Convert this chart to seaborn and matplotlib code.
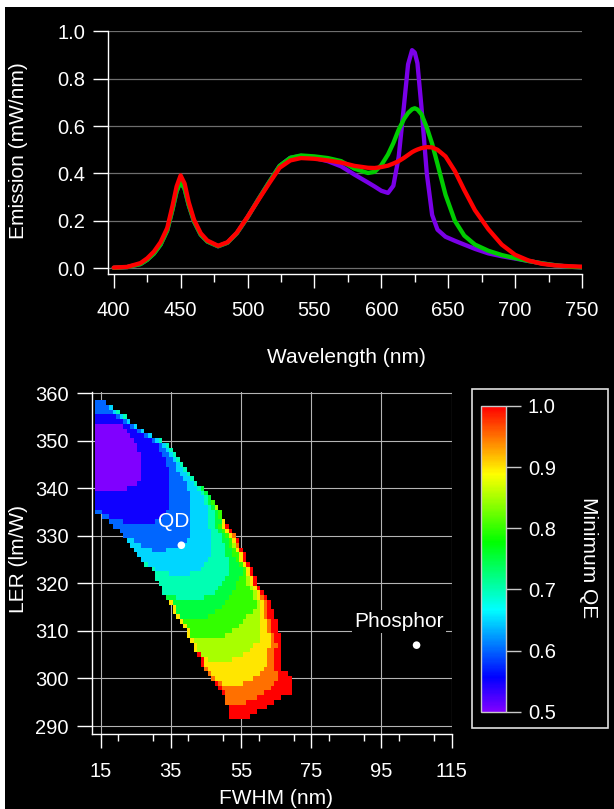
import re
import numpy as np
import pandas as pd
import matplotlib
matplotlib.use("Agg")
import matplotlib.pyplot as plt
from matplotlib.colors import ListedColormap, Normalize, hsv_to_rgb
from matplotlib.patches import Rectangle
from matplotlib.ticker import FormatStrFormatter, MultipleLocator
import seaborn as sns

# ---------------- data: emission spectra ----------------
wavelength = [400, 410, 420, 425, 430, 435, 440, 444, 447, 450,
              453, 456, 460, 465, 470, 478, 485, 492, 500, 508,
              516, 524, 532, 540, 550, 560, 570, 580, 590, 595,
              600, 605, 609, 613, 617, 620, 623, 625, 627, 630,
              634, 638, 642, 648, 655, 662, 670, 680, 690, 700,
              710, 720, 730, 740, 750]
emission_purple = [0.002, 0.005, 0.018, 0.036, 0.062, 0.100, 0.160, 0.250, 0.325, 0.366,
                   0.335, 0.268, 0.198, 0.142, 0.113, 0.093, 0.108, 0.148, 0.215, 0.290,
                   0.362, 0.432, 0.466, 0.474, 0.465, 0.452, 0.430, 0.395, 0.362, 0.345,
                   0.327, 0.318, 0.348, 0.470, 0.690, 0.860, 0.920, 0.910, 0.865, 0.680,
                   0.400, 0.225, 0.163, 0.133, 0.116, 0.100, 0.082, 0.063, 0.051, 0.041,
                   0.031, 0.021, 0.013, 0.007, 0.004]
emission_green = [0.002, 0.005, 0.018, 0.036, 0.062, 0.100, 0.160, 0.250, 0.325, 0.366,
                  0.335, 0.268, 0.198, 0.142, 0.113, 0.093, 0.108, 0.148, 0.215, 0.290,
                  0.362, 0.432, 0.466, 0.476, 0.472, 0.465, 0.452, 0.420, 0.402, 0.407,
                  0.435, 0.480, 0.528, 0.585, 0.630, 0.655, 0.671, 0.675, 0.670, 0.650,
                  0.594, 0.525, 0.440, 0.310, 0.200, 0.138, 0.100, 0.074, 0.056, 0.043,
                  0.031, 0.021, 0.013, 0.007, 0.004]
emission_red = [0.003, 0.006, 0.022, 0.042, 0.070, 0.110, 0.170, 0.265, 0.345, 0.392,
                0.357, 0.280, 0.205, 0.148, 0.117, 0.095, 0.110, 0.150, 0.217, 0.287,
                0.357, 0.424, 0.455, 0.465, 0.462, 0.455, 0.446, 0.432, 0.424, 0.423,
                0.427, 0.433, 0.442, 0.452, 0.466, 0.478, 0.490, 0.496, 0.501, 0.507,
                0.511, 0.510, 0.500, 0.472, 0.410, 0.330, 0.245, 0.165, 0.100, 0.057,
                0.033, 0.019, 0.012, 0.009, 0.007]
series_names = ["purple", "green", "red"]
series_colors = ["#7a00e8", "#00cc00", "#ff0000"]

# ---------------- data: minimum QE map ----------------
# one row per LER value (358 ... 292 lm/W); "start:codes" where start is the first
# FWHM (nm) column and each code letter + count is a run of cells at that QE level
qe_codes = "abcdefghijk"
qe_values = [0.50, 0.55, 0.60, 0.65, 0.70, 0.75, 0.80, 0.85, 0.90, 0.95, 1.00]
ler_rows = list(range(358, 291, -1))
fwhm_cols = list(range(14, 70))
qe_rows = [
    "14:c3",                 # 358
    "14:c4d1",               # 357
    "14:c5d1e1",             # 356
    "14:b6c1d1e1",           # 355
    "14:b8c1d1",             # 354
    "14:a8b2c1d1",           # 353
    "14:a9b3c1d1",           # 352
    "14:a10b4c1d1",          # 351
    "14:a11b5c1d1e1",        # 350
    "14:a12b6c1d1e1",        # 349
    "14:a12b6c2d1e1",        # 348
    "14:a13b6c2d1e1",        # 347
    "14:a13b7c2d1e1",        # 346
    "14:a13b7c3d1e1",        # 345
    "14:a13b8c2d2e1",        # 344
    "14:a13b8c3d2e1",        # 343
    "14:a13b8c4d2e1",        # 342
    "14:a12b9c5d2e1",        # 341
    "14:a9b12c5d3e1f1",      # 340
    "14:b21c6d3e1f1",        # 339
    "14:b21c6d4e1f1",        # 338
    "14:b21c6d4e1f1g1",      # 337
    "14:b21c6d5e1f1h1",      # 336
    "14:c2b18c7d5e2f1g1",    # 335
    "16:c2b15c8d5e2f1g1",    # 334
    "18:c4b9c10d5e2f2i1",    # 333
    "19:c22d5e2f1g1i1k1",    # 332
    "21:c20d6e2f1g1i1k1",    # 331
    "22:c19d6e3f1g1i1j1",    # 330
    "23:d2c15d7e3f2g1i1k1",  # 329
    "24:d3c12d8e4f1g1h1j1",  # 328
    "25:d5c4d13e4f2g1i1k1",  # 327
    "26:d21e4f2g2i1k1",      # 326
    "27:d19e6f2g1i1k1",      # 325
    "28:e1d16e7f3g1i1k1",    # 324
    "30:e1d13e8f4g1i1k1",    # 323
    "31:e4d6e11f4g1i1k1",    # 322
    "31:e20f4g2h1i1k1",      # 321
    "32:e18f4g3h1i1k1",      # 320
    "33:e16f5g4h1i1k1",      # 319
    "33:e15f5g6h1i1k1",      # 318
    "34:f3e8f7g7h1i1j1k1",   # 317
    "35:i1f15g9h1i1j1k1",    # 316
    "36:i1f13g10h1i1j1k1",   # 315
    "36:i1f11g11h2i1j1k2",   # 314
    "37:i1f8g11h4i1j1k2",    # 313
    "38:i1g17h5i2j1k2",      # 312
    "39:i1g15h6i2j1k2",      # 311
    "40:i1g12h8i2j1k2",      # 310
    "40:i1g10h10i3j1k2",     # 309
    "41:i1h19i3j1k2",        # 308
    "42:i1h16i5j2k1",        # 307
    "42:i1h15i5j2k2",        # 306
    "43:k1h12i7j2k2",        # 305
    "44:k1i1h7i10j2k2",      # 304
    "44:k1i18j2k2",          # 303
    "45:j1i16j3k2",          # 302
    "46:j1i14j5k3",          # 301
    "47:j1i11j7k4",          # 300
    "48:k1j1i6j9k5",         # 299
    "49:k1j14k6",            # 298
    "50:k1j11k8",            # 297
    "51:j9k7",               # 296
    "51:j6k8",               # 295
    "52:k11",                # 294
    "52:k8",                 # 293
    "52:k6",                 # 292
]
point_names = ["QD", "Phosphor"]
point_fwhm = [38, 105]
point_ler = [328, 307]

# ---------------- build tables ----------------
spectra = pd.DataFrame({
    "wavelength": wavelength * 3,
    "emission": emission_purple + emission_green + emission_red,
    "series": sum([[n] * len(wavelength) for n in series_names], []),
})
level_of = dict(zip(qe_codes, qe_values))
qe_grid = np.full((len(ler_rows), len(fwhm_cols)), np.nan)
for r, row in enumerate(qe_rows):
    start, runs = row.split(":")
    c = fwhm_cols.index(int(start))
    for code, n in re.findall(r"([a-k])(\d+)", runs):
        qe_grid[r, c:c + int(n)] = level_of[code]
        c += int(n)
fwhm_edges = np.array(fwhm_cols + [fwhm_cols[-1] + 1]) - 0.5
ler_edges = np.array(ler_rows + [ler_rows[-1] - 1]) + 0.5

# ---------------- style ----------------
plt.rcParams["font.family"] = ["Liberation Sans", "DejaVu Sans"]
W, H = 614, 809
fig = plt.figure(figsize=(W / 100, H / 100), dpi=100, facecolor="black")
fig.add_artist(Rectangle((0, 1 - 7 / H), 1, 7 / H, transform=fig.transFigure,
                         facecolor="white", edgecolor="none"))
fig.add_artist(Rectangle((0, 0), 5 / W, 1, transform=fig.transFigure,
                         facecolor="white", edgecolor="none"))

FS = 14.5

def style_axes(ax):
    ax.set_facecolor("black")
    for s in ["top", "right"]:
        ax.spines[s].set_visible(False)
    for s in ["left", "bottom"]:
        ax.spines[s].set_color("white")
        ax.spines[s].set_linewidth(1.0)
    ax.tick_params(axis="both", which="both", colors="white", width=1.0,
                   labelsize=FS, direction="out")

# ---------------- top: spectra ----------------
ax1 = fig.add_axes([107.7 / W, 1 - 274 / H, (582 - 107.7) / W, (274 - 30.5) / H])
style_axes(ax1)
sns.lineplot(data=spectra, x="wavelength", y="emission", hue="series",
             hue_order=series_names, palette=series_colors, estimator=None,
             linewidth=3.1, legend=False, ax=ax1)
for ln in ax1.lines:
    ln.set_solid_joinstyle("round")
    ln.set_solid_capstyle("round")
ax1.set_xlim(395.5, 750)
ax1.set_ylim(-0.024, 1.003)
ax1.set_xticks(np.arange(400, 751, 50))
ax1.xaxis.set_minor_locator(MultipleLocator(25))
ax1.set_yticks(np.arange(0, 1.01, 0.2))
ax1.yaxis.set_major_formatter(FormatStrFormatter("%.1f"))
ax1.tick_params(axis="x", which="major", length=10, pad=9.5)
ax1.tick_params(axis="x", which="minor", length=5.8)
ax1.tick_params(axis="y", which="major", length=10.5, pad=5.8)
ax1.yaxis.grid(True, color="#6e6e6e", linewidth=0.9)
ax1.set_axisbelow(True)
ax1.set_xlabel("Wavelength (nm)", fontsize=15, color="white")
ax1.set_ylabel("Emission (mW/nm)", fontsize=15, color="white")
ax1.xaxis.label.set_va("center")
ax1.xaxis.set_label_coords(0.504, -0.341)
ax1.yaxis.label.set(va="center", ha="center", rotation_mode="default")
ax1.yaxis.set_label_coords(-0.189, 0.506)

# ---------------- bottom: minimum QE map ----------------
ax2 = fig.add_axes([92 / W, 1 - 734.3 / H, (452.2 - 92) / W, (734.3 - 392.3) / H])
style_axes(ax2)
hues = np.linspace(0.75, 0.0, 256)
rainbow = ListedColormap(hsv_to_rgb(np.column_stack([hues, np.ones(256), np.ones(256)])))
norm = Normalize(0.5, 1.0)
mesh = ax2.pcolormesh(fwhm_edges, ler_edges, qe_grid, cmap=rainbow, norm=norm,
                      shading="flat", edgecolors="none", antialiased=False, zorder=1)
sns.scatterplot(x=point_fwhm, y=point_ler, color="white", s=30, edgecolor="none",
                zorder=4, legend=False, ax=ax2)
ax2.text(35.8, 332.9, point_names[0], color="white", fontsize=15,
         ha="center", va="center", zorder=5)
ax2.text(100.0, 311.9, point_names[1], color="white", fontsize=15,
         ha="center", va="center", zorder=5,
         bbox=dict(facecolor="black", edgecolor="none", pad=1.5))
ax2.set_xlim(12.55, 115.15)
ax2.set_ylim(288.26, 360.15)
ax2.set_xticks(np.arange(15, 116, 20))
ax2.xaxis.set_minor_locator(MultipleLocator(10))
ax2.set_yticks(np.arange(290, 361, 10))
ax2.tick_params(axis="x", which="major", length=10, pad=10)
ax2.tick_params(axis="x", which="minor", length=5.3)
ax2.tick_params(axis="y", which="major", length=10.8, pad=6)
ax2.grid(True, which="major", color="#b4b4b4", linewidth=0.8)
ax2.set_axisbelow(True)
ax2.set_xlabel("FWHM (nm)", fontsize=15, color="white")
ax2.set_ylabel("LER (lm/W)", fontsize=15, color="white")
ax2.xaxis.label.set_va("center")
ax2.xaxis.set_label_coords(0.51, -0.188)
ax2.yaxis.label.set(va="center", ha="center", rotation_mode="default")
ax2.yaxis.set_label_coords(-0.204, 0.512)

# ---------------- colorbar ----------------
cax = fig.add_axes([480.7 / W, 1 - 711.7 / H, 25 / W, (711.7 - 406) / H])
cb = fig.colorbar(mesh, cax=cax, ticks=qe_values[::2])
cb.outline.set_edgecolor("#c8c8c8")
cb.outline.set_linewidth(1.0)
cax.yaxis.set_major_formatter(FormatStrFormatter("%.1f"))
cax.tick_params(axis="y", color="#c8c8c8", labelcolor="white", length=11,
                width=1.0, labelsize=FS, pad=5)
fig.text(588.3 / W, 1 - 558 / H, "Minimum QE", rotation=270, ha="center",
         va="center", fontsize=15, color="white")
fig.add_artist(Rectangle((471.7 / W, 1 - 728.3 / H), (608.3 - 471.7) / W,
                         (728.3 - 389) / H, transform=fig.transFigure,
                         fill=False, edgecolor="#e0e0e0", linewidth=1.2))

fig.savefig("out.png", dpi=100, facecolor=fig.get_facecolor())
